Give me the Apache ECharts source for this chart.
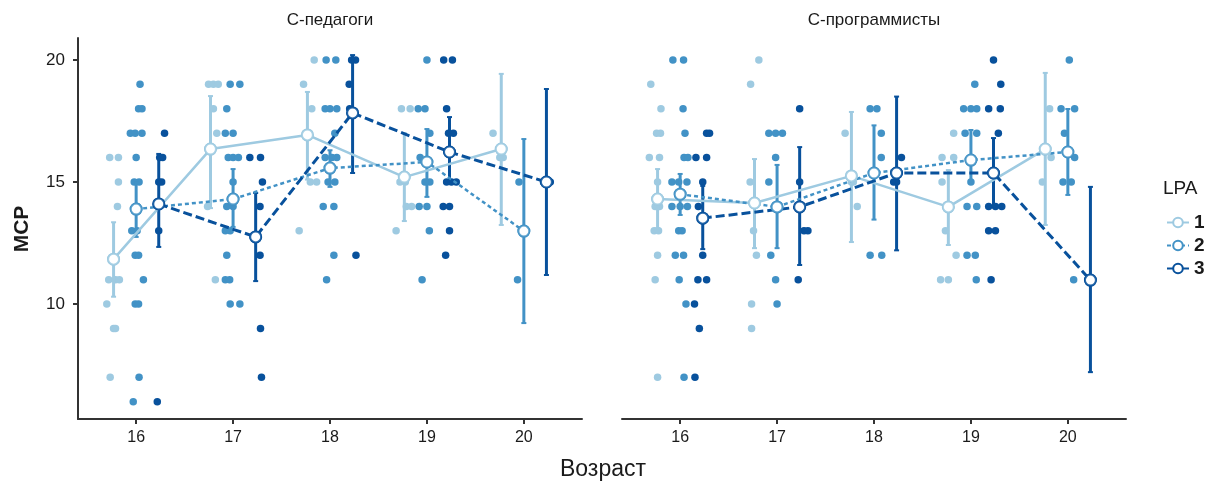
<!DOCTYPE html>
<html>
<head>
<meta charset="utf-8">
<script src="https://cdn.jsdelivr.net/npm/echarts@6/dist/echarts.min.js"></script>
<style>html,body{margin:0;padding:0;background:#fff}#c{width:1208px;height:484px}</style>
</head>
<body>
<div id="c"></div>
<script>
// ---------- data ----------
const panels = ['С-педагоги', 'С-программисты'];
const groups = ['1', '2', '3'];
const ages = [16, 17, 18, 19, 20];
const xTicks = [16, 17, 18, 19, 20];
const yTicks = [10, 15, 20];

// means and interval ends per age (16..20)
const pedMean1 = [11.84, 16.35, 16.93, 15.20, 16.35];
const pedLo1   = [10.30, 13.93, 15.10, 13.40, 13.24];
const pedHi1   = [13.35, 18.52, 18.69, 17.00, 19.43];
const pedMean2 = [13.89, 14.30, 15.57, 15.82, 12.99];
const pedLo2   = [12.75, 13.16, 14.80, 14.39, 9.22];
const pedHi2   = [15.08, 15.53, 16.30, 17.17, 16.76];
const pedMean3 = [14.10, 12.75, 17.83, 16.23, 15.00];
const pedLo3   = [12.34, 10.94, 15.37, 14.92, 11.19];
const pedHi3   = [16.15, 14.55, 20.20, 17.66, 18.81];

const progMean1 = [14.30, 14.14, 15.25, 13.98, 16.35];
const progLo1   = [13.10, 12.29, 12.54, 12.42, 13.24];
const progHi1   = [15.53, 15.94, 17.87, 15.49, 19.47];
const progMean2 = [14.50, 13.98, 15.37, 15.90, 16.23];
const progLo2   = [13.65, 12.29, 13.46, 15.00, 14.47];
const progHi2   = [15.33, 15.70, 17.32, 17.13, 17.99];
const progMean3 = [13.52, 13.98, 15.37, 15.37, 10.98];
const progLo3   = [12.25, 11.60, 12.20, 13.98, 7.21];
const progHi3   = [14.84, 16.43, 18.50, 16.80, 14.80];

// individual observations: [age, MCP, jitter (in age units)]
const pedPts1 = [
 [16,16,-0.04],[16,16,0.05],[16,15,0.05],[16,14,0.04],[16,11,-0.05],[16,11,0.02],[16,11,0.06],[16,10,-0.07],[16,9,0.0],[16,9,0.02],[16,7,-0.035],
 [17,19,-0.02],[17,19,0.03],[17,19,0.08],[17,18,0.03],[17,17,0.065],[17,14,-0.03],[17,11,0.05],
 [18,20,0.07],[18,19,-0.04],[18,18,0.045],[18,15,0.03],[18,15,0.095],[18,13,-0.085],
 [19,18,-0.03],[19,18,0.06],[19,15,-0.045],[19,15,0.01],[19,14,0.02],[19,14,0.075],[19,13,-0.085],
 [20,17,-0.085],[20,16,0.02],[20,16,-0.015]
];
const pedPts2 = [
 [16,19,0.04],[16,18,0.025],[16,18,0.06],[16,17,-0.06],[16,17,-0.01],[16,17,0.06],[16,16,0.0],[16,15,-0.02],[16,15,0.03],[16,14,0.01],[16,13,-0.045],[16,13,0.01],[16,12,-0.01],[16,12,0.025],[16,11,0.075],[16,10,-0.01],[16,10,0.025],[16,7,0.03],[16,6,-0.03],
 [17,19,-0.03],[17,19,0.07],[17,18,-0.065],[17,17,-0.08],[17,17,0.0],[17,16,-0.05],[17,16,0.0],[17,16,0.055],[17,15,0.0],[17,14,-0.065],[17,14,0.0],[17,13,-0.08],[17,13,-0.03],[17,12,-0.065],[17,11,-0.08],[17,11,-0.035],[17,10,-0.03],[17,10,0.07],
 [18,20,-0.04],[18,20,0.06],[18,18,-0.05],[18,18,0.0],[18,18,0.07],[18,17,0.05],[18,16,-0.05],[18,16,0.02],[18,16,0.07],[18,15,-0.02],[18,15,0.05],[18,14,-0.07],[18,14,0.04],[18,12,0.04],[18,11,-0.035],
 [19,20,0.0],[19,18,-0.09],[19,18,-0.02],[19,17,0.03],[19,16,-0.07],[19,15,-0.02],[19,15,0.03],[19,14,-0.08],[19,14,0.0],[19,13,0.025],[19,11,-0.05],
 [20,15,-0.05],[20,11,-0.065]
];
const pedPts3 = [
 [16,17,0.06],[16,16,0.01],[16,16,0.04],[16,15,0.0],[16,15,0.03],[16,13,0.0],[16,6,-0.015],
 [17,16,-0.06],[17,16,0.05],[17,15,0.07],[17,14,0.045],[17,12,0.045],[17,9,0.05],[17,7,0.06],
 [18,20,-0.01],[18,20,0.03],[18,19,-0.035],[18,18,-0.03],[18,12,0.035],
 [19,20,-0.06],[19,20,0.03],[19,18,-0.03],[19,17,-0.01],[19,17,0.04],[19,15,-0.03],[19,15,0.02],[19,15,0.07],[19,14,-0.065],[19,14,0.0],[19,13,0.0],[19,12,-0.04],
 [20,15,-0.03],[20,15,0.04]
];
const progPts1 = [
 [16,19,-0.07],[16,18,0.035],[16,17,-0.01],[16,17,0.03],[16,16,-0.085],[16,16,0.02],[16,15,0.0],[16,14,-0.025],[16,14,0.02],[16,13,-0.035],[16,13,0.01],[16,12,0.0],[16,11,-0.025],[16,7,0.0],
 [17,20,0.045],[17,19,-0.04],[17,15,-0.045],[17,13,-0.01],[17,12,0.02],[17,10,-0.03],[17,9,-0.03],
 [18,17,-0.065],[18,15,0.0],[18,15,0.02],[18,14,0.06],
 [19,17,0.055],[19,16,-0.065],[19,16,0.055],[19,15,-0.065],[19,13,-0.03],[19,12,0.08],[19,11,-0.08],[19,11,0.0],
 [20,18,0.045],[20,16,0.06],[20,15,-0.03]
];
const progPts2 = [
 [16,20,-0.075],[16,20,0.035],[16,18,0.03],[16,17,0.05],[16,16,0.04],[16,16,0.08],[16,15,-0.085],[16,15,-0.015],[16,15,0.07],[16,14,-0.085],[16,14,0.0],[16,14,0.075],[16,13,-0.015],[16,13,0.02],[16,12,-0.05],[16,12,0.035],[16,11,-0.01],[16,10,0.06],[16,7,0.04],
 [17,17,-0.085],[17,17,-0.015],[17,17,0.055],[17,16,-0.015],[17,15,-0.085],[17,12,-0.065],[17,11,-0.015],[17,10,0.0],
 [18,18,-0.04],[18,18,0.03],[18,17,0.075],[18,16,0.075],[18,12,-0.04],[18,12,0.08],
 [19,19,0.04],[19,18,-0.075],[19,18,0.0],[19,18,0.06],[19,17,-0.06],[19,17,0.06],[19,16,0.0],[19,15,0.0],[19,14,-0.04],[19,14,0.06],[19,12,-0.04],[19,12,0.045],[19,11,0.055],
 [20,20,0.015],[20,18,-0.07],[20,18,0.07],[20,17,-0.035],[20,16,0.07],[20,15,-0.05],[20,15,0.035],[20,11,0.06]
];
const progPts3 = [
 [16,17,0.04],[16,17,0.07],[16,16,-0.07],[16,16,0.04],[16,15,0.0],[16,14,-0.045],[16,12,0.0],[16,11,-0.05],[16,11,0.04],[16,10,-0.085],[16,9,-0.035],[16,7,-0.08],
 [17,18,0.0],[17,15,0.0],[17,13,0.045],[17,13,0.085],[17,11,-0.015],
 [18,16,0.05],[18,15,0.0],[18,15,-0.03],
 [19,20,0.0],[19,19,0.075],[19,18,-0.05],[19,18,0.07],[19,17,0.05],[19,14,-0.05],[19,14,0.02],[19,14,0.085],[19,13,-0.05],[19,13,0.02],[19,11,-0.025],
 [20,11,0.0]
];

// ---------- styling ----------
const colors = ['#9ECAE1', '#4292C6', '#08519C'];
const dodge = [-0.233, 0, 0.233];
const lineTypes = ['solid', [4, 3], [9, 4]];
const lineWidths = [2.5, 2.5, 3];
const FONT = 'Liberation Sans, Arial, sans-serif';
const AX = '#333';
const TXT = '#1a1a1a';

const panelData = [
  { pts: [pedPts1, pedPts2, pedPts3], mean: [pedMean1, pedMean2, pedMean3], lo: [pedLo1, pedLo2, pedLo3], hi: [pedHi1, pedHi2, pedHi3] },
  { pts: [progPts1, progPts2, progPts3], mean: [progMean1, progMean2, progMean3], lo: [progLo1, progLo2, progLo3], hi: [progHi1, progHi2, progHi3] }
];

const gridLefts = [78, 622];
const grids = gridLefts.map(l => ({ left: l, top: 38, width: 504, height: 381 }));

const xAxes = [0, 1].map(i => ({
  type: 'value', gridIndex: i, min: 15.4, max: 20.6,
  axisLine: { show: true, lineStyle: { color: AX, width: 2 } },
  axisTick: { show: true, length: 5, lineStyle: { color: AX, width: 2 }, customValues: xTicks },
  axisLabel: { show: true, customValues: xTicks, fontSize: 16, color: TXT, fontFamily: FONT, margin: 11 },
  splitLine: { show: false }
}));
const yAxes = [0, 1].map(i => ({
  type: 'value', gridIndex: i, min: 5.29, max: 20.9,
  axisLine: { show: i === 0, lineStyle: { color: AX, width: 2 } },
  axisTick: { show: i === 0, length: 5, lineStyle: { color: AX, width: 2 }, customValues: yTicks },
  axisLabel: { show: i === 0, customValues: yTicks, fontSize: 17, color: TXT, fontFamily: FONT, margin: 13 },
  splitLine: { show: false }
}));

const series = [];
panelData.forEach((pd, p) => {
  // jittered observations
  groups.forEach((g, k) => {
    series.push({
      type: 'scatter', name: 'obs' + g, xAxisIndex: p, yAxisIndex: p, z: 2, silent: true,
      symbol: 'circle', symbolSize: 7.5,
      itemStyle: { color: colors[k], opacity: 1 },
      data: pd.pts[k].map(d => [d[0] + dodge[k] + d[2], d[1]])
    });
  });
  // error bars
  groups.forEach((g, k) => {
    series.push({
      type: 'custom', name: 'ci' + g, xAxisIndex: p, yAxisIndex: p, z: 3, silent: true,
      encode: { x: 0, y: [1, 2] },
      data: ages.map((a, i) => [a + dodge[k], pd.lo[k][i], pd.hi[k][i]]),
      renderItem: (params, api) => {
        const x = api.value(0);
        const a = api.coord([x, api.value(1)]);
        const b = api.coord([x, api.value(2)]);
        const cw = 2.5;
        const st = { stroke: colors[k], lineWidth: 3 };
        return { type: 'group', children: [
          { type: 'line', shape: { x1: a[0], y1: a[1], x2: b[0], y2: b[1] }, style: st },
          { type: 'line', shape: { x1: a[0] - cw, y1: a[1], x2: a[0] + cw, y2: a[1] }, style: { stroke: colors[k], lineWidth: 2 } },
          { type: 'line', shape: { x1: b[0] - cw, y1: b[1], x2: b[0] + cw, y2: b[1] }, style: { stroke: colors[k], lineWidth: 2 } }
        ]};
      }
    });
  });
  // mean lines
  groups.forEach((g, k) => {
    series.push({
      type: 'line', name: g, xAxisIndex: p, yAxisIndex: p, z: 4, silent: true,
      symbol: 'circle', symbolSize: 11, showSymbol: true,
      lineStyle: { color: colors[k], width: lineWidths[k], type: lineTypes[k] },
      itemStyle: { color: '#fff', borderColor: colors[k], borderWidth: 2 },
      data: ages.map((a, i) => [a + dodge[k], pd.mean[k][i]])
    });
  });
  // mean points on top of all lines
  groups.forEach((g, k) => {
    series.push({
      type: 'scatter', name: 'mean' + g, xAxisIndex: p, yAxisIndex: p, z: 5, silent: true,
      symbol: 'circle', symbolSize: 11,
      itemStyle: { color: '#fff', borderColor: colors[k], borderWidth: 2 },
      data: ages.map((a, i) => [a + dodge[k], pd.mean[k][i]])
    });
  });
});

const option = {
  animation: false,
  backgroundColor: '#fff',
  grid: grids,
  xAxis: xAxes,
  yAxis: yAxes,
  legend: {
    data: groups, orient: 'vertical', left: 1161, top: 208,
    itemWidth: 22, itemHeight: 12, itemGap: 4, selectedMode: false,
    textStyle: { fontSize: 19, fontWeight: 'bold', color: TXT, fontFamily: FONT, lineHeight: 19 }
  },
  graphic: [
    { type: 'text', x: 330, y: 20, style: { text: panels[0], font: '17px ' + FONT, fill: TXT, textAlign: 'center', textVerticalAlign: 'middle' } },
    { type: 'text', x: 874, y: 20, style: { text: panels[1], font: '17px ' + FONT, fill: TXT, textAlign: 'center', textVerticalAlign: 'middle' } },
    { type: 'text', x: 603, y: 470, style: { text: 'Возраст', font: '23px ' + FONT, fill: TXT, textAlign: 'center', textVerticalAlign: 'middle' } },
    { type: 'text', x: 22, y: 229, rotation: Math.PI / 2, style: { text: 'MCP', font: 'bold 21px ' + FONT, fill: TXT, textAlign: 'center', textVerticalAlign: 'middle' } },
    { type: 'text', x: 1163, y: 189, style: { text: 'LPA', font: '19px ' + FONT, fill: TXT, textAlign: 'left', textVerticalAlign: 'middle' } }
  ],
  series: series
};

const chart = echarts.init(document.getElementById('c'), null, { renderer: 'canvas' });
chart.setOption(option);
</script>
</body>
</html>
